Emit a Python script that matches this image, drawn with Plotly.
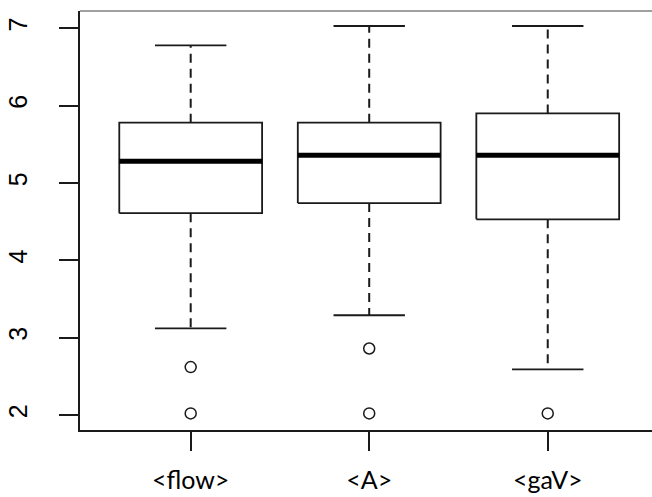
import plotly.graph_objects as go

# ---- data ----
categories = ["<flow>", "<A>", "<gaV>"]
lower_whisker = [3.12, 3.29, 2.59]
q1 = [4.61, 4.74, 4.53]
median = [5.28, 5.36, 5.36]
q3 = [5.78, 5.78, 5.90]
upper_whisker = [6.78, 7.03, 7.03]
outliers = [[2.62, 2.02], [2.86, 2.02], [2.02]]
y_ticks = [2, 3, 4, 5, 6, 7]

# ---- style ----
BOX_HALF = 0.4
CAP_HALF = 0.2
LINE = "#1a1a1a"

positions = list(range(1, len(categories) + 1))
# escape angle brackets so Plotly does not read "<A>" as a link tag
tick_text = [c.replace("<", "&lt;").replace(">", "&gt;") for c in categories]

box_x, box_y = [], []
med_x, med_y = [], []
wh_x, wh_y = [], []
cap_x, cap_y = [], []
out_x, out_y = [], []
for p, lo, a, m, b, hi, outs in zip(positions, lower_whisker, q1, median, q3,
                                    upper_whisker, outliers):
    box_x += [p - BOX_HALF, p + BOX_HALF, p + BOX_HALF, p - BOX_HALF, p - BOX_HALF, None]
    box_y += [a, a, b, b, a, None]
    med_x += [p - BOX_HALF, p + BOX_HALF, None]
    med_y += [m, m, None]
    wh_x += [p, p, None, p, p, None]
    wh_y += [b, hi, None, a, lo, None]
    cap_x += [p - CAP_HALF, p + CAP_HALF, None, p - CAP_HALF, p + CAP_HALF, None]
    cap_y += [hi, hi, None, lo, lo, None]
    for o in outs:
        out_x.append(p)
        out_y.append(o)

fig = go.Figure()
fig.add_trace(go.Scatter(x=wh_x, y=wh_y, mode="lines",
                         line=dict(color=LINE, width=2, dash="9px,6px"),
                         hoverinfo="skip"))
fig.add_trace(go.Scatter(x=cap_x, y=cap_y, mode="lines",
                         line=dict(color=LINE, width=1.8), hoverinfo="skip"))
fig.add_trace(go.Scatter(x=box_x, y=box_y, mode="lines",
                         line=dict(color=LINE, width=1.8), hoverinfo="skip"))
fig.add_trace(go.Scatter(x=med_x, y=med_y, mode="lines",
                         line=dict(color="#000000", width=5), hoverinfo="skip"))
fig.add_trace(go.Scatter(x=out_x, y=out_y, mode="markers",
                         marker=dict(symbol="circle-open", size=11,
                                     color=LINE, line=dict(width=1.5, color=LINE)),
                         hoverinfo="skip"))

fig.update_layout(
    width=652, height=497,
    margin=dict(l=80, r=0, t=11, b=67, pad=0),
    paper_bgcolor="white", plot_bgcolor="white",
    showlegend=False,
    shapes=[dict(type="line", xref="paper", yref="paper", x0=0, x1=1, y0=1, y1=1,
                 line=dict(color="#808080", width=1.5))],
)
fig.update_xaxes(
    range=[0.38, 3.584], tickmode="array", tickvals=positions, ticktext=tick_text,
    showgrid=False, zeroline=False, showline=True, linecolor=LINE, linewidth=2,
    ticks="outside", ticklen=19, tickwidth=2, tickcolor=LINE,
    tickfont=dict(family="Lato", size=25, color="#000000"),
    ticklabelstandoff=8, automargin=False,
)
fig.update_yaxes(
    range=[1.806, 7.224], tickmode="array", tickvals=y_ticks,
    ticktext=[str(t) for t in y_ticks],
    showgrid=False, zeroline=False, showline=True, linecolor=LINE, linewidth=2,
    ticks="outside", ticklen=19, tickwidth=2, tickcolor=LINE,
    tickangle=-90,
    tickfont=dict(family="Liberation Sans", size=25, color="#000000"),
    ticklabelstandoff=22, automargin=False,
)

fig.write_html("out.html")
